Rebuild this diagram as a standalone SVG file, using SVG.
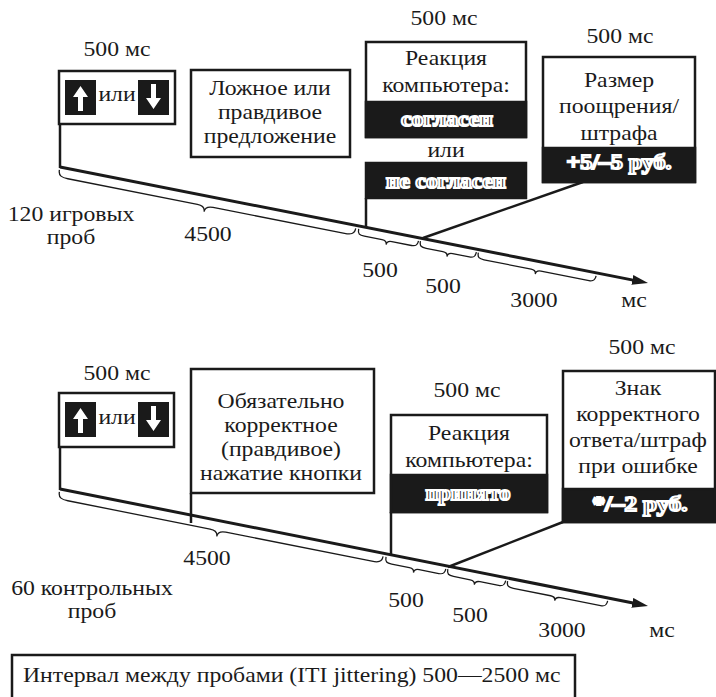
<svg xmlns="http://www.w3.org/2000/svg" width="716" height="697" viewBox="0 0 716 697">
<style>
text{font-family:"Liberation Serif","Times New Roman",serif;fill:#1a1a1a}
.t{font-size:21px;text-anchor:middle}
.l{font-size:21px}
.box{fill:#fff;stroke:#1a1a1a;stroke-width:2.5}
.band{fill:#1a1a1a;stroke:#1a1a1a;stroke-width:2.5}
.ol{font-size:21px;font-weight:bold;text-anchor:middle;fill:#1a1a1a;stroke:#fff;stroke-width:2}
.icon{fill:#1a1a1a}
.arr{fill:#fff}
.ln{stroke:#1a1a1a;stroke-width:2.5;fill:none}
.tl{stroke:#1a1a1a;stroke-width:3;fill:none}
.br{stroke:#1a1a1a;stroke-width:1.3;fill:none}
</style>
<defs>
<marker id="ah" markerUnits="userSpaceOnUse" markerWidth="18" markerHeight="12" refX="6" refY="5" orient="auto">
<path d="M0,0 L16,5 L0,10 z" fill="#1a1a1a"/>
</marker>
<g id="up"><rect class="icon" width="31" height="35"/><path class="arr" d="M15.5,6 L23,17 L18,17 L18,31 L13,31 L13,17 L8,17 z"/></g>
<g id="down"><rect class="icon" width="31" height="35"/><path class="arr" d="M15.5,29 L23,18 L18,18 L18,4 L13,4 L13,18 L8,18 z"/></g>
</defs>

<!-- connectors -->
<g id="connectors">
<line class="tl" x1="60" y1="167" x2="638.2" y2="281.1" marker-end="url(#ah)"/>
<line class="ln" x1="60" y1="124" x2="60" y2="168"/>
<line class="ln" x1="366" y1="198" x2="366" y2="228"/>
<line class="ln" x1="583" y1="182" x2="423" y2="238"/>
<line class="tl" x1="60" y1="489" x2="638.2" y2="604"  marker-end="url(#ah)"/>
<line class="ln" x1="60" y1="447" x2="60" y2="490"/>
<line class="ln" x1="191" y1="493" x2="191" y2="523"/>
<line class="ln" x1="391" y1="512" x2="391" y2="555"/>
<line class="ln" x1="563" y1="522" x2="448" y2="567"/>
<g transform="translate(60,167) rotate(11.16)">
<path class="br" d="M0,3 C0,9 4,10 10,10 L142,10 C147,10 150,12 150,16 C150,12 153,10 158,10 L292,10 C298,10 302,9 302,3"/>
<path class="br" d="M305,3 C305,8 307,9 312,9 L330,9 C333,9 335,10 335,13 C335,10 337,9 340,9 L360,9 C364,9 366,8 366,3"/>
<path class="br" d="M368,3 C368,8 370,9 375,9 L392,9 C395,9 397,10 397,13 C397,10 399,9 402,9 L419,9 C423,9 425,8 425,3"/>
<path class="br" d="M427,3 C427,8 429,9 434,9 L482,9 C485,9 487,10 487,13 C487,10 489,9 492,9 L541,9 C545,9 547,8 547,3"/>
</g>
<g transform="translate(60,489) rotate(11.25)">
<path class="br" d="M0,3 C0,9 4,10 10,10 L155,10 C160,10 163,12 163,16 C163,12 166,10 171,10 L320,10 C326,10 330,9 330,3"/>
<path class="br" d="M333,3 C333,8 335,9 340,9 L358,9 C361,9 363,10 363,13 C363,10 365,9 368,9 L388,9 C392,9 394,8 394,3"/>
<path class="br" d="M396,3 C396,8 398,9 403,9 L420,9 C423,9 425,10 425,13 C425,10 427,9 430,9 L449,9 C453,9 455,8 455,3"/>
<path class="br" d="M457,3 C457,8 459,9 464,9 L502,9 C505,9 507,10 507,13 C507,10 509,9 512,9 L553,9 C557,9 559,8 559,3"/>
</g>
</g>

<!-- top panel -->
<g id="cue1">
<text class="t" transform="translate(117,56) scale(1.13,1)">500 мс</text>
<rect class="box" x="59" y="71" width="116" height="53"/>
<use href="#up" x="65" y="80"/>
<text class="t" transform="translate(117,101) scale(1.13,1)">или</text>
<use href="#down" x="138" y="80"/>
</g>
<g id="statement1">
<rect class="box" x="191" y="70" width="159" height="87"/>
<text class="t" transform="translate(270,95) scale(1.13,1)">Ложное или</text>
<text class="t" transform="translate(270,119) scale(1.13,1)">правдивое</text>
<text class="t" transform="translate(270,143) scale(1.13,1)">предложение</text>
</g>
<g id="reaction1">
<text class="t" transform="translate(444,25) scale(1.13,1)">500 мс</text>
<rect class="box" x="366" y="42" width="160" height="95"/>
<rect class="band" x="366" y="102" width="160" height="35"/>
<text class="t" transform="translate(446,65) scale(1.13,1)">Реакция</text>
<text class="t" transform="translate(446,92) scale(1.13,1)">компьютера:</text>
<text class="ol" x="447" y="126" textLength="92" lengthAdjust="spacingAndGlyphs">согласен</text>
<text class="t" transform="translate(446,157) scale(1.13,1)">или</text>
<rect class="band" x="366" y="163" width="160" height="35"/>
<text class="ol" x="446" y="188" textLength="120" lengthAdjust="spacingAndGlyphs">не согласен</text>
</g>
<g id="reward1">
<text class="t" transform="translate(620,43) scale(1.13,1)">500 мс</text>
<rect class="box" x="543" y="57" width="152" height="125"/>
<rect class="band" x="543" y="148" width="152" height="34"/>
<text class="t" transform="translate(619,87) scale(1.13,1)">Размер</text>
<text class="t" transform="translate(619,113) scale(1.13,1)">поощрения/</text>
<text class="t" transform="translate(619,140) scale(1.13,1)">штрафа</text>
<text class="ol" x="619" y="169" textLength="105" lengthAdjust="spacingAndGlyphs">+5/–5 руб.</text>
</g>
<g id="labels1">
<text class="t" transform="translate(71,221) scale(1.13,1)">120 игровых</text>
<text class="t" transform="translate(71,244) scale(1.13,1)">проб</text>
<text class="t" transform="translate(208,241) scale(1.13,1)">4500</text>
<text class="t" transform="translate(380,277) scale(1.13,1)">500</text>
<text class="t" transform="translate(443,293) scale(1.13,1)">500</text>
<text class="t" transform="translate(534,307) scale(1.13,1)">3000</text>
<text class="t" transform="translate(634,307) scale(1.13,1)">мс</text>
</g>

<!-- bottom panel -->
<g id="cue2">
<text class="t" transform="translate(117,380) scale(1.13,1)">500 мс</text>
<rect class="box" x="59" y="393" width="115" height="54"/>
<use href="#up" x="65" y="402"/>
<text class="t" transform="translate(117,424) scale(1.13,1)">или</text>
<use href="#down" x="138" y="402"/>
</g>
<g id="press2">
<rect class="box" x="191" y="369" width="183" height="124"/>
<text class="t" transform="translate(281,408) scale(1.13,1)">Обязательно</text>
<text class="t" transform="translate(281,432) scale(1.13,1)">корректное</text>
<text class="t" transform="translate(281,456) scale(1.13,1)">(правдивое)</text>
<text class="t" transform="translate(281,480) scale(1.13,1)">нажатие кнопки</text>
</g>
<g id="reaction2">
<text class="t" transform="translate(467,397) scale(1.13,1)">500 мс</text>
<rect class="box" x="391" y="415" width="156" height="97"/>
<rect class="band" x="391" y="475" width="156" height="37"/>
<text class="t" transform="translate(469,440) scale(1.13,1)">Реакция</text>
<text class="t" transform="translate(469,467) scale(1.13,1)">компьютера:</text>
<text class="ol" x="468" y="500" textLength="85" lengthAdjust="spacingAndGlyphs">принято</text>
</g>
<g id="feedback2">
<text class="t" transform="translate(642,354) scale(1.13,1)">500 мс</text>
<rect class="box" x="563" y="371" width="152" height="151"/>
<rect class="band" x="563" y="489" width="152" height="33"/>
<text class="t" transform="translate(638,395) scale(1.13,1)">Знак</text>
<text class="t" transform="translate(638,421) scale(1.13,1)">корректного</text>
<text class="t" transform="translate(638,447) scale(1.13,1)">ответа/штраф</text>
<text class="t" transform="translate(638,473) scale(1.13,1)">при ошибке</text>
<text class="ol" x="640" y="511" textLength="95" lengthAdjust="spacingAndGlyphs">*/–2 руб.</text>
</g>
<g id="labels2">
<text class="t" transform="translate(92,595) scale(1.13,1)">60 контрольных</text>
<text class="t" transform="translate(92,618) scale(1.13,1)">проб</text>
<text class="t" transform="translate(207,565) scale(1.13,1)">4500</text>
<text class="t" transform="translate(406,607) scale(1.13,1)">500</text>
<text class="t" transform="translate(470,622) scale(1.13,1)">500</text>
<text class="t" transform="translate(562,637) scale(1.13,1)">3000</text>
<text class="t" transform="translate(662,637) scale(1.13,1)">мс</text>
</g>
<g id="iti">
<rect class="box" x="12" y="655" width="563" height="50"/>
<text class="l" transform="translate(23,682) scale(1.13,1)">Интервал между пробами (ITI jittering) 500—2500 мс</text>
</g>
</svg>
